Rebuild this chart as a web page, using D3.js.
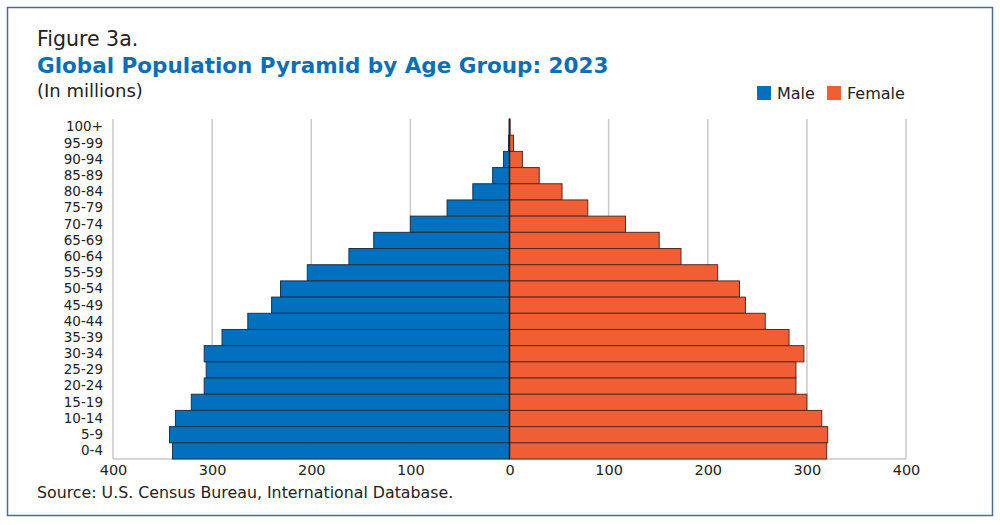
<!DOCTYPE html>
<html>
<head>
<meta charset="utf-8">
<script src="https://cdn.jsdelivr.net/npm/d3@7"></script>
<style>
  html, body { margin: 0; padding: 0; background: #fff; }
  svg { display: block; }
  text { font-family: "DejaVu Sans", "Noto Sans", sans-serif; fill: #222; }
</style>
</head>
<body>
<svg id="chart" width="1000" height="525"></svg>
<script>
// ---- Data (millions) ----
const ageGroups = ["100+","95-99","90-94","85-89","80-84","75-79","70-74","65-69","60-64","55-59","50-54","45-49","40-44","35-39","30-34","25-29","20-24","15-19","10-14","5-9","0-4"];
const maleValues   = [0.3, 1, 6, 17, 37, 63, 100, 137, 162, 204, 231, 240, 264, 290, 308, 306, 308, 321, 337, 343, 340];
const femaleValues = [0.6, 4, 13, 30, 53, 79, 117, 151, 173, 210, 232, 238, 258, 282, 297, 289, 289, 300, 315, 321, 320];
const tickValues = [-400, -300, -200, -100, 0, 100, 200, 300, 400];
const seriesNames = ["Male", "Female"];

const colors = { Male: "#0070bf", Female: "#f15e33" };
const FONT = '"DejaVu Sans", "Noto Sans", sans-serif';

const svg = d3.select("#chart");

// Frame
svg.append("rect")
  .attr("x", 7.5).attr("y", 7.5).attr("width", 985).attr("height", 508)
  .attr("fill", "none").attr("stroke", "#4b6d92").attr("stroke-width", 1.5);

// Titles
svg.append("text").attr("x", 37).attr("y", 46).attr("font-size", 20.5).text("Figure 3a.");
svg.append("text").attr("x", 37).attr("y", 73).attr("font-size", 21.5).attr("font-weight", 700)
  .style("fill", "#0a6fb8").text("Global Population Pyramid by Age Group: 2023");
svg.append("text").attr("x", 37).attr("y", 97).attr("font-size", 18).text("(In millions)");

// Scales
const x = d3.scaleLinear().domain([-400, 400]).range([113, 906]);
const y = d3.scaleBand().domain(ageGroups).range([119, 459]).padding(0);

// Gridlines
svg.append("g").selectAll("line")
  .data(tickValues.filter(d => d !== 0))
  .join("line")
  .attr("x1", d => x(d)).attr("x2", d => x(d))
  .attr("y1", 119).attr("y2", 459)
  .attr("stroke", "#c9c9c9").attr("stroke-width", 1.5);

// Bottom axis line
svg.append("line").attr("x1", x(-400)).attr("x2", x(400)).attr("y1", 459).attr("y2", 459)
  .attr("stroke", "#c9c9c9").attr("stroke-width", 1.5);

// Bars
svg.append("g").selectAll("rect.male")
  .data(ageGroups.map((a, i) => ({ a, v: maleValues[i] })))
  .join("rect")
  .attr("x", d => x(-d.v)).attr("y", d => y(d.a))
  .attr("width", d => x(0) - x(-d.v)).attr("height", y.bandwidth())
  .attr("fill", colors.Male).attr("stroke", "#1f3348").attr("stroke-width", 1);

svg.append("g").selectAll("rect.female")
  .data(ageGroups.map((a, i) => ({ a, v: femaleValues[i] })))
  .join("rect")
  .attr("x", x(0)).attr("y", d => y(d.a))
  .attr("width", d => x(d.v) - x(0)).attr("height", y.bandwidth())
  .attr("fill", colors.Female).attr("stroke", "#5a2a1c").attr("stroke-width", 1);

// Center line
svg.append("line").attr("x1", x(0)).attr("x2", x(0)).attr("y1", 119).attr("y2", 459)
  .attr("stroke", "#222").attr("stroke-width", 1.5);

// Y axis labels
const yAxis = d3.axisLeft(y).tickSize(0).tickPadding(0);
const gy = svg.append("g").attr("transform", "translate(103,0)").call(yAxis);
gy.select(".domain").remove();
gy.selectAll("text").attr("font-size", 13.5).style("fill", "#222").style("font-family", FONT);

// X axis labels
const xAxis = d3.axisBottom(x).tickValues(tickValues).tickFormat(d => Math.abs(d)).tickSize(0).tickPadding(6);
const gx = svg.append("g").attr("transform", "translate(0,459)").call(xAxis);
gx.select(".domain").remove();
gx.selectAll("text").attr("font-size", 14.5).style("fill", "#222").style("font-family", FONT);

// Legend
const legendX = [757, 827];
const lg = svg.append("g");
seriesNames.forEach((s, i) => {
  lg.append("rect").attr("x", legendX[i]).attr("y", 86).attr("width", 14).attr("height", 14)
    .attr("fill", colors[s]);
  lg.append("text").attr("x", legendX[i] + 20).attr("y", 98.5).attr("font-size", 16).text(s);
});

// Source
svg.append("text").attr("x", 37).attr("y", 498).attr("font-size", 15.8)
  .text("Source: U.S. Census Bureau, International Database.");
</script>
</body>
</html>
